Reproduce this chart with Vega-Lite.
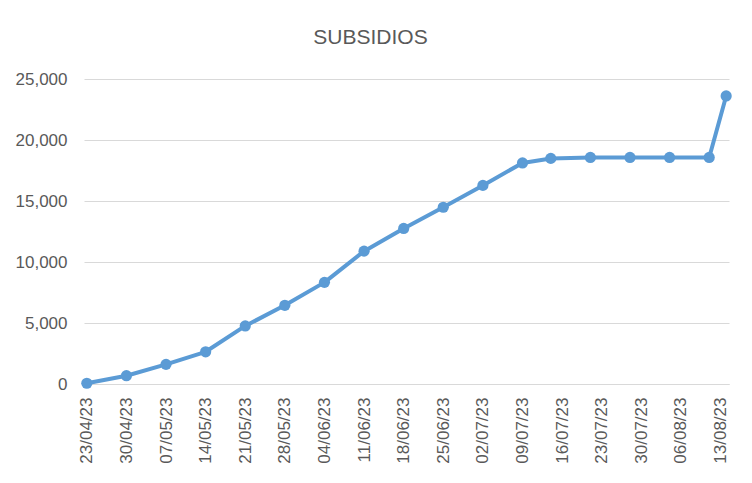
{
  "$schema": "https://vega.github.io/schema/vega-lite/v6.json",
  "width": 645,
  "height": 305,
  "autosize": {"type": "none"},
  "padding": {"left": 84, "top": 79, "right": 23, "bottom": 99},
  "background": "white",
  "title": {
    "text": "SUBSIDIOS",
    "font": "Liberation Sans",
    "fontSize": 21,
    "fontWeight": "normal",
    "color": "#595959",
    "anchor": "middle",
    "baseline": "bottom",
    "offset": 31,
    "dx": -36,
    "dy": 30
  },
  "config": {
    "view": {"stroke": null},
    "axis": {
      "labelFont": "Liberation Sans",
      "labelFontSize": 17,
      "labelColor": "#595959",
      "ticks": false,
      "title": null
    }
  },
  "data": {
    "values": [
      {"fecha": "2023-04-23", "valor": 60},
      {"fecha": "2023-04-30", "valor": 680},
      {"fecha": "2023-05-07", "valor": 1610},
      {"fecha": "2023-05-14", "valor": 2640},
      {"fecha": "2023-05-21", "valor": 4760},
      {"fecha": "2023-05-28", "valor": 6450},
      {"fecha": "2023-06-04", "valor": 8330},
      {"fecha": "2023-06-11", "valor": 10890},
      {"fecha": "2023-06-18", "valor": 12750},
      {"fecha": "2023-06-25", "valor": 14490},
      {"fecha": "2023-07-02", "valor": 16280},
      {"fecha": "2023-07-09", "valor": 18120},
      {"fecha": "2023-07-14", "valor": 18490},
      {"fecha": "2023-07-21", "valor": 18570},
      {"fecha": "2023-07-28", "valor": 18570},
      {"fecha": "2023-08-04", "valor": 18570},
      {"fecha": "2023-08-11", "valor": 18570},
      {"fecha": "2023-08-14", "valor": 23610}
    ]
  },
  "encoding": {
    "x": {
      "field": "fecha",
      "type": "temporal",
      "scale": {
        "type": "utc",
        "domain": [
          {"year": 2023, "month": 4, "date": 22, "hours": 12, "utc": true},
          {"year": 2023, "month": 8, "date": 14, "hours": 12, "utc": true}
        ]
      },
      "axis": {
        "values": [
          {"year": 2023, "month": 4, "date": 23, "utc": true},
          {"year": 2023, "month": 4, "date": 30, "utc": true},
          {"year": 2023, "month": 5, "date": 7, "utc": true},
          {"year": 2023, "month": 5, "date": 14, "utc": true},
          {"year": 2023, "month": 5, "date": 21, "utc": true},
          {"year": 2023, "month": 5, "date": 28, "utc": true},
          {"year": 2023, "month": 6, "date": 4, "utc": true},
          {"year": 2023, "month": 6, "date": 11, "utc": true},
          {"year": 2023, "month": 6, "date": 18, "utc": true},
          {"year": 2023, "month": 6, "date": 25, "utc": true},
          {"year": 2023, "month": 7, "date": 2, "utc": true},
          {"year": 2023, "month": 7, "date": 9, "utc": true},
          {"year": 2023, "month": 7, "date": 16, "utc": true},
          {"year": 2023, "month": 7, "date": 23, "utc": true},
          {"year": 2023, "month": 7, "date": 30, "utc": true},
          {"year": 2023, "month": 8, "date": 6, "utc": true},
          {"year": 2023, "month": 8, "date": 13, "utc": true}
        ],
        "format": "%d/%m/%y",
        "labelAngle": -90,
        "labelAlign": "right",
        "labelBaseline": "middle",
        "labelPadding": 13,
        "labelOverlap": false,
        "labelFlush": false,
        "grid": false,
        "domain": true,
        "domainColor": "#d9d9d9",
        "domainWidth": 1
      }
    },
    "y": {
      "field": "valor",
      "type": "quantitative",
      "scale": {"domain": [0, 25000], "nice": false},
      "axis": {
        "values": [0, 5000, 10000, 15000, 20000, 25000],
        "format": ",.0f",
        "grid": true,
        "gridColor": "#d9d9d9",
        "gridWidth": 1,
        "domain": false,
        "labelPadding": 17
      }
    }
  },
  "layer": [
    {
      "mark": {"type": "line", "color": "#5b9bd5", "strokeWidth": 4, "strokeCap": "round", "strokeJoin": "round"}
    },
    {
      "mark": {"type": "point", "filled": true, "color": "#5b9bd5", "size": 125, "opacity": 1}
    }
  ]
}
